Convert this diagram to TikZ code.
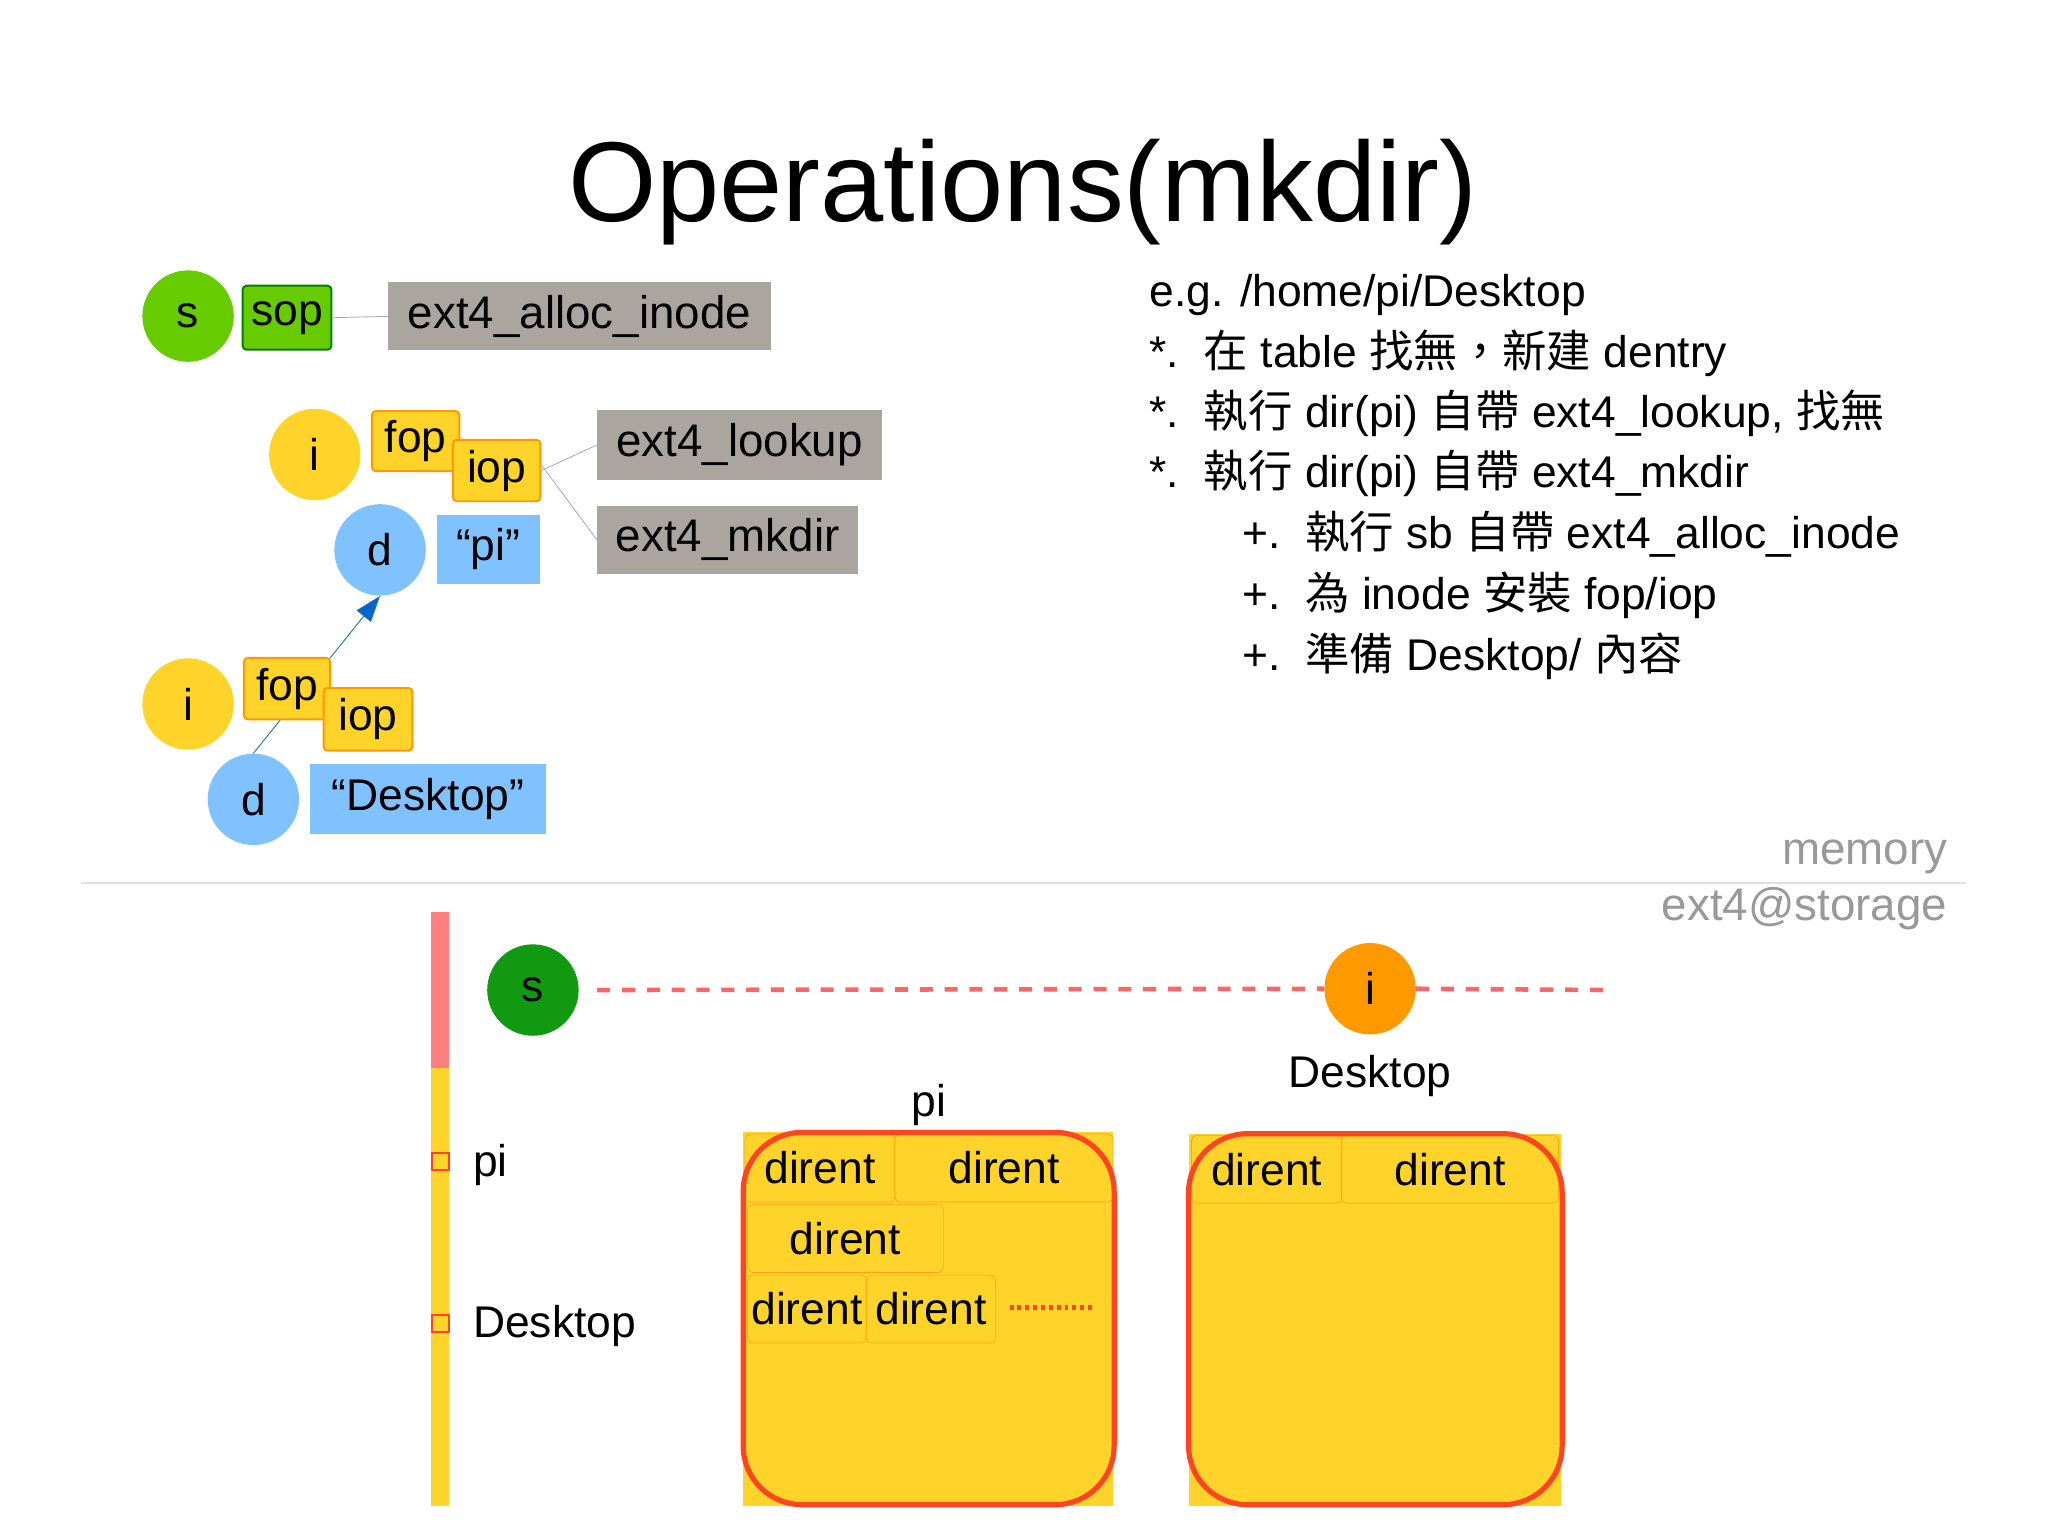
\documentclass[tikz,border=0pt]{standalone}
\usepackage{fontspec}
\setmainfont{Liberation Sans}
\newfontfamily\cjk{Noto Sans CJK TC}
\usetikzlibrary{arrows.meta}
\definecolor{gbox}{HTML}{ABA59F}
\definecolor{yel}{HTML}{FFD42A}
\definecolor{org}{HTML}{FF9900}
\definecolor{blu}{HTML}{80C2FF}
\definecolor{lgreen}{HTML}{66CC00}
\definecolor{dgreen}{HTML}{119911}
\definecolor{redb}{HTML}{FF4422}
\definecolor{pink}{HTML}{FF7F7F}
\definecolor{arrb}{HTML}{0066CC}
\tikzset{
 circ/.style={circle,minimum size=70pt,inner sep=0pt,font=\fontsize{34}{34}\selectfont},
 gb/.style={fill=gbox,inner sep=0pt,font=\fontsize{35}{35}\selectfont,anchor=north west},
 yb/.style={fill=yel,draw=org,line width=1.5pt,rounded corners=3pt,inner sep=0pt,font=\fontsize{34}{34}\selectfont,anchor=north west},
 dir/.style={fill=yel,draw=orange!60!yel,line width=0.5pt,rounded corners=4pt,inner sep=0pt,font=\fontsize{34}{34}\selectfont,anchor=north west},
 thin/.style={draw=gray!70,line width=0.6pt},
 txt/.style={anchor=base west,font=\fontsize{34}{34}\selectfont,inner sep=0pt}
}
\begin{document}
\begin{tikzpicture}[x=1pt,y=-1pt]
\useasboundingbox (0,0) rectangle (1568,1176);
\node[font=\fontsize{87}{87}\selectfont] (title) at (783,147) {Operations(mkdir)};
% top group
\node[circ,fill=lgreen] (s1) at (144,242) {s};
\node[fill=lgreen,draw=green!50!black,line width=1.5pt,rounded corners=3pt,inner sep=0pt,minimum width=68pt,minimum height=49pt,font=\fontsize{34}{34}\selectfont,anchor=north west] (sop) at (185,218) {sop};
\node[gb,minimum width=293pt,minimum height=52pt] (alloc) at (297,216) {ext4\_alloc\_inode};
\draw[thin] (sop.east) -- (alloc.west);
\node[circ,fill=yel] (i1) at (241,348) {i};
\node[yb,minimum width=67pt,minimum height=46pt] (fop1) at (284,314) {fop};
\node[yb,minimum width=67pt,minimum height=47pt] (iop1) at (346,336) {iop};
\node[gb,minimum width=218pt,minimum height=53pt] (lookup) at (457,314) {ext4\_lookup};
\node[gb,minimum width=200pt,minimum height=52pt] (mkdir) at (457,387) {ext4\_mkdir};
\draw[thin] (iop1.east) -- (lookup.west);
\draw[thin] (iop1.north east) ++(0,20) -- (mkdir.west);
\node[circ,fill=blu] (d1) at (291,421) {d};
\node[fill=blu,inner sep=0pt,minimum width=79pt,minimum height=53pt,font=\fontsize{34}{34}\selectfont,anchor=north west] (pi) at (334,394) {“pi”};
\node[circ,fill=yel] (i2) at (144,539) {i};
\node[circ,fill=blu] (d2) at (194,612) {d};
\draw[draw=arrb!70!gray,line width=0.7pt,-{Triangle[length=20pt,width=14pt,fill=arrb]}] (d2.north) -- (d1.south);
\node[yb,minimum width=66pt,minimum height=47pt] (fop2) at (186,503) {fop};
\node[yb,minimum width=68pt,minimum height=48pt] (iop2) at (247,526) {iop};
\node[fill=blu,inner sep=0pt,minimum width=181pt,minimum height=53pt,font=\fontsize{34}{34}\selectfont,anchor=north west] (desk) at (237,585) {“Desktop”};
% right text
\node[txt] (t1) at (880,235) {e.g. /home/pi/Desktop};
\node[txt] (t2) at (880,281) {*.\ \ {\cjk 在} table {\cjk 找無，新建} dentry};
\node[txt] (t3) at (880,327) {*.\ \ {\cjk 執行} dir(pi) {\cjk 自帶} ext4\_lookup, {\cjk 找無}};
\node[txt] (t4) at (880,373) {*.\ \ {\cjk 執行} dir(pi) {\cjk 自帶} ext4\_mkdir};
\node[txt] (t5) at (951,420) {+.\ \ {\cjk 執行} sb {\cjk 自帶} ext4\_alloc\_inode};
\node[txt] (t6) at (951,467) {+.\ \ {\cjk 為} inode {\cjk 安裝} fop/iop};
\node[txt] (t7) at (951,513) {+.\ \ {\cjk 準備} Desktop/ {\cjk 內容}};
% separator
\coordinate (sl) at (62,676); \coordinate (sr) at (1505,676);
\draw[draw=gray!25,line width=1pt] (sl) -- (sr);
\node[anchor=east,text=gray!80,font=\fontsize{35}{35}\selectfont,inner sep=0pt] (mem) at (1491,656) {memory};
\node[anchor=east,text=gray!80,font=\fontsize{35}{35}\selectfont,inner sep=0pt] (stor) at (1491,696) {ext4@storage};
% storage
\fill[pink] (330,698) rectangle (344,818);
\fill[yel] (330,818) rectangle (344,1153);
\node[draw=redb,fill=yel,line width=1.5pt,minimum size=13pt,inner sep=0pt] (q1) at (337,889) {};
\node[draw=redb,fill=yel,line width=1.5pt,minimum size=13pt,inner sep=0pt] (q2) at (337,1013) {};
\node[anchor=west,font=\fontsize{34}{34}\selectfont,inner sep=0pt] (lpi) at (362,892) {pi};
\node[anchor=west,font=\fontsize{34}{34}\selectfont,inner sep=0pt] (ldesk) at (362,1015) {Desktop};
\node[circ,fill=dgreen] (s2) at (408,758) {s};
\node[circ,fill=org] (i3) at (1049,757) {i};
\coordinate (dend) at (1235,758);
\draw[pink!80!red,line width=3.5pt,dash pattern=on 10pt off 9pt] (s2.east) ++(14,0) -- (i3.west);
\draw[pink!80!red,line width=3.5pt,dash pattern=on 10pt off 9pt] (i3.east) -- (dend);
\node[font=\fontsize{34}{34}\selectfont] (lab1) at (1049,824) {Desktop};
\node[font=\fontsize{34}{34}\selectfont] (lab2) at (711,846) {pi};
% pi block
\fill[yel] (569,867) rectangle (852,1153);
\node[dir,minimum width=115pt,minimum height=52pt] (a1) at (570,868) {dirent};
\node[dir,minimum width=167pt,minimum height=52pt] (a2) at (685,868) {dirent};
\node[dir,minimum width=150pt,minimum height=52pt] (a3) at (572,922) {dirent};
\node[dir,minimum width=91pt,minimum height=52pt] (a4) at (572,976) {dirent};
\node[dir,minimum width=99pt,minimum height=52pt] (a5) at (663,976) {dirent};
\coordinate (dot1) at (773,1001); \coordinate (dot2) at (838,1001);
\draw[redb,line width=3.5pt,dash pattern=on 3pt off 3pt] (dot1) -- (dot2);
\draw[redb,line width=4pt,rounded corners=45pt] (569,867) rectangle (853,1152);
% desktop block
\fill[yel] (910,868) rectangle (1195,1153);
\node[dir,minimum width=115pt,minimum height=52pt] (b1) at (912,869) {dirent};
\node[dir,minimum width=166pt,minimum height=52pt] (b2) at (1027,869) {dirent};
\draw[redb,line width=4pt,rounded corners=45pt] (910,868) rectangle (1196,1152);
\end{tikzpicture}
\end{document}
